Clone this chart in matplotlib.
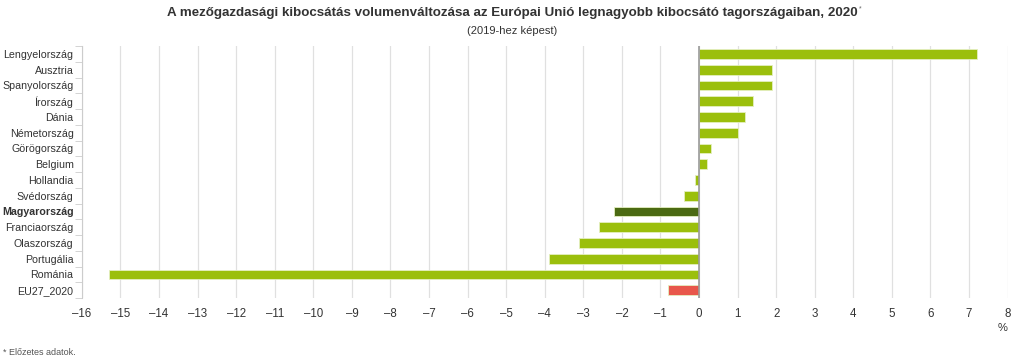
import matplotlib as mpl
mpl.use('Agg')
import matplotlib.pyplot as plt

plt.rcParams['font.family'] = ['Liberation Sans', 'DejaVu Sans']

countries = ["Lengyelország", "Ausztria", "Spanyolország", "Írország", "Dánia",
             "Németország", "Görögország", "Belgium", "Hollandia", "Svédország",
             "Magyarország", "Franciaország", "Olaszország", "Portugália",
             "Románia", "EU27_2020"]
values = [7.2, 1.9, 1.9, 1.4, 1.2, 1.0, 0.3, 0.2, -0.1, -0.4,
          -2.2, -2.6, -3.1, -3.9, -15.3, -0.8]
x_ticks = list(range(-16, 9))

GREEN = '#9bbf0c'
DARK = '#4b6a12'
RED = '#e8574b'
colors = []
for c in countries:
    if c == "Magyarország":
        colors.append(DARK)
    elif c == "EU27_2020":
        colors.append(RED)
    else:
        colors.append(GREEN)

fig = plt.figure(figsize=(10.24, 3.6), dpi=100)
ax = fig.add_axes([0.080, 0.172, 0.904, 0.700])

y = list(range(len(countries)))
ax.barh(y, values, height=0.62, color=colors, edgecolor='#e4efc0', linewidth=0.6, zorder=3)
ax.set_ylim(len(countries) - 0.5, -0.5)
ax.set_xlim(-16, 8)
ax.set_xticks(x_ticks)
ax.set_xticklabels([str(t).replace('-', '\u2013') for t in x_ticks])
ax.set_yticks(y)
ax.set_yticklabels(countries)
for lbl in ax.get_yticklabels():
    if lbl.get_text() == "Magyarország":
        lbl.set_fontweight('bold')

ax.grid(axis='x', color='#e0e0e0', linewidth=0.9, zorder=0)
ax.axvline(0, color='#9a9a9a', linewidth=1.2, zorder=4)
for s in ['top', 'right', 'bottom']:
    ax.spines[s].set_visible(False)
ax.spines['left'].set_color('#cccccc')
ax.set_yticks([i - 0.5 for i in range(len(countries) + 1)], minor=True)
ax.tick_params(axis='y', which='major', length=0, labelsize=7.7, colors='#333333', pad=6)
ax.tick_params(axis='y', which='minor', length=5, color='#cccccc')
ax.tick_params(axis='x', length=0, labelsize=8.3, colors='#333333', pad=7)

title = fig.text(0.5, 0.965, "A mezőgazdasági kibocsátás volumenváltozása az Európai Unió legnagyobb kibocsátó tagországaiban, 2020",
                 ha='center', va='center', fontsize=9.6, fontweight='bold', color='#333333')
fig.canvas.draw()
bb = title.get_window_extent().transformed(fig.transFigure.inverted())
fig.text(bb.x1 + 0.002, 0.975, "*", ha='left', va='center', fontsize=5, color='#666666')
fig.text(0.5, 0.915, "(2019-hez képest)", ha='center', va='center', fontsize=8, color='#333333')
fig.text(0.979, 0.088, "%", ha='center', va='center', fontsize=8, color='#333333')
fig.text(0.003, 0.022, "* Előzetes adatok.", ha='left', va='center', fontsize=6.5, color='#555555')

fig.savefig('out.png', dpi=100)
